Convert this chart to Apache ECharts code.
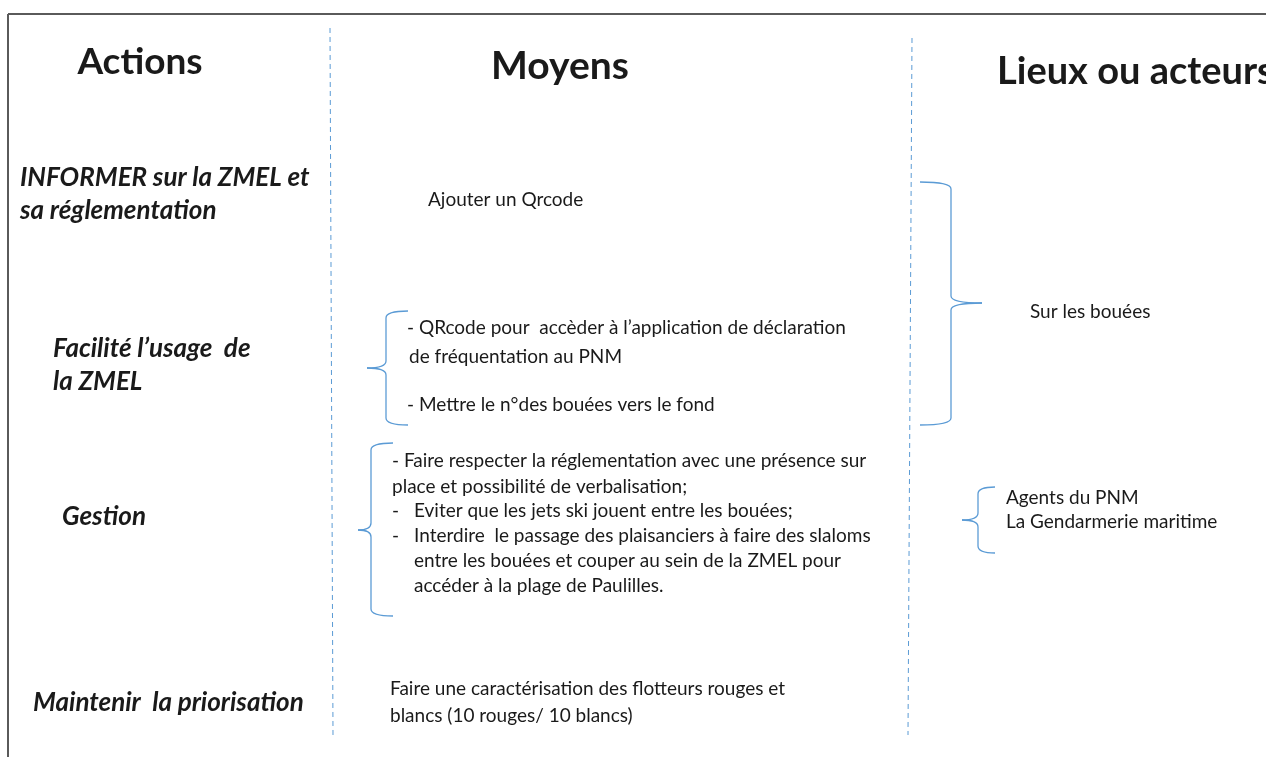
<!DOCTYPE html>
<html><head><meta charset="utf-8">
<script src="https://cdn.jsdelivr.net/npm/echarts@6/dist/echarts.min.js"></script>
<style>html,body{margin:0;padding:0;background:#fff}#c{width:1266px;height:757px}</style>
</head><body><div id="c"></div>
<script>
// ---- content ----
const headers = ['Actions', 'Moyens', 'Lieux ou acteurs'];
const actions = [
  ['INFORMER sur la ZMEL et', 'sa réglementation'],
  ['Facilité l’usage  de', 'la ZMEL'],
  ['Gestion'],
  ['Maintenir  la priorisation']
];
const moyens = [
  [['', 'Ajouter un Qrcode']],
  [['', '- QRcode pour  accèder à l’application de déclaration'], ['', 'de fréquentation au PNM'], ['', '- Mettre le n°des bouées vers le fond']],
  [['', '- Faire respecter la réglementation avec une présence sur'], ['', 'place et possibilité de verbalisation;'],
   ['-', 'Eviter que les jets ski jouent entre les bouées;'], ['-', 'Interdire  le passage des plaisanciers à faire des slaloms'],
   ['', 'entre les bouées et couper au sein de la ZMEL pour'], ['', 'accéder à la plage de Paulilles.']],
  [['', 'Faire une caractérisation des flotteurs rouges et'], ['', 'blancs (10 rouges/ 10 blancs)']]
];
const acteurs = [['Sur les bouées'], ['Agents du PNM', 'La Gendarmerie maritime']];

// ---- layout (positions / styles) ----
const headerPos = [[140, 62], [560, 66], [997, 72]];
const headerAlign = ['center', 'center', 'left'];
const headerSize = [37, 39, 38];
const actionPos = [[20, 178], [53, 349], [62, 517], [33, 703]];
const actionLH = 33;
const moyensLines = [
  [[428, 200]],
  [[407, 328], [409, 357], [407, 405]],
  [[392, 461], [392, 487], [392, 511], [392, 536], [414, 561], [414, 586]],
  [[390, 689], [390, 716]]
];
const acteurPos = [[1030, 312], [1006, 498]];
const acteurLH = 24;
const blue = '#5b9bd5';
const textColor = '#1a1a1a';
const FONT = 'Lato, "Open Sans", sans-serif';
const BODY = '19px ' + FONT;

const elements = [];
// frame
elements.push({ type: 'line', shape: { x1: 8, y1: 14, x2: 1266, y2: 14 }, style: { stroke: '#5a5a5a', lineWidth: 2 } });
elements.push({ type: 'line', shape: { x1: 8, y1: 14, x2: 8, y2: 757 }, style: { stroke: '#5a5a5a', lineWidth: 2 } });
// dashed separators
elements.push({ type: 'line', shape: { x1: 330, y1: 28, x2: 333, y2: 735 }, style: { stroke: blue, lineWidth: 1, lineDash: [5, 4] } });
elements.push({ type: 'line', shape: { x1: 912, y1: 38, x2: 908, y2: 735 }, style: { stroke: blue, lineWidth: 1, lineDash: [5, 4] } });

function txt(t, x, y, font, align) {
  elements.push({ type: 'text', style: { text: t, x: x, y: y, font: font, fill: textColor, align: align || 'left', verticalAlign: 'middle' } });
}
headers.forEach((h, i) => txt(h, headerPos[i][0], headerPos[i][1], 'bold ' + headerSize[i] + 'px ' + FONT, headerAlign[i]));
actions.forEach((lines, i) => lines.forEach((l, j) => txt(l, actionPos[i][0], actionPos[i][1] + j * actionLH, 'italic bold 26px ' + FONT)));
moyens.forEach((grp, i) => grp.forEach((l, j) => {
  const p = moyensLines[i][j];
  if (l[0]) { txt(l[0], p[0], p[1], BODY); txt(l[1], p[0] + 22, p[1], BODY); }
  else txt(l[1], p[0], p[1], BODY);
}));
acteurs.forEach((lines, i) => lines.forEach((l, j) => txt(l, acteurPos[i][0], acteurPos[i][1] + j * acteurLH, BODY)));

// braces: arm-end x, spine x, tip x, top, bottom, tip y
function brace(xa, xs, xt, y0, y1, ym) {
  const r = 7;
  const st = { stroke: blue, fill: 'none', lineWidth: 1.3 };
  const bz = (x1, y1, cx, cy, x2, y2) => elements.push({ type: 'bezierCurve', shape: { x1: x1, y1: y1, x2: x2, y2: y2, cpx1: cx, cpy1: cy }, style: st });
  const ln = (x1, y1, x2, y2) => elements.push({ type: 'line', shape: { x1: x1, y1: y1, x2: x2, y2: y2 }, style: st });
  bz(xa, y0, xs, y0, xs, y0 + r);
  ln(xs, y0 + r, xs, ym - r);
  bz(xs, ym - r, xs, ym, xt, ym);
  bz(xt, ym, xs, ym, xs, ym + r);
  ln(xs, ym + r, xs, y1 - r);
  bz(xs, y1 - r, xs, y1, xa, y1);
}
brace(408, 386, 367, 311, 425, 368);
brace(393, 371, 358, 443, 616, 530);
brace(920, 951, 982, 182, 425, 303);
brace(995, 978, 962, 487, 553, 520);

const chart = echarts.init(document.getElementById('c'));
chart.setOption({ backgroundColor: '#fff', graphic: { elements: elements } });
</script></body></html>
